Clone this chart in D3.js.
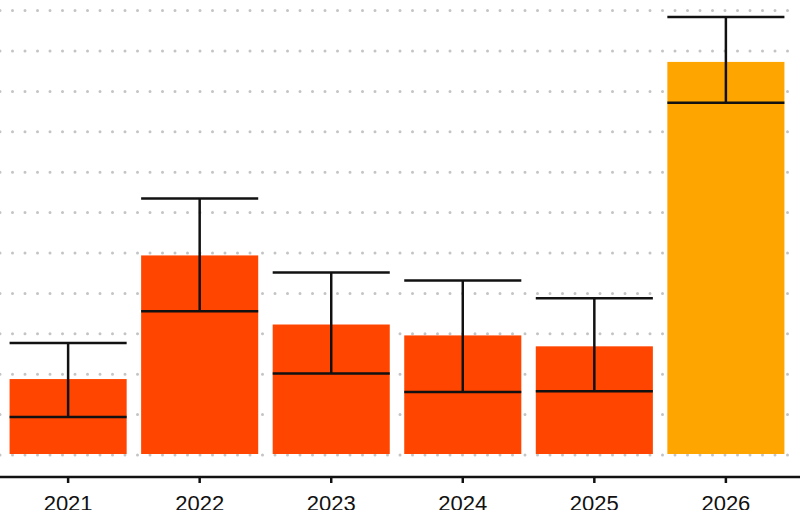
<!DOCTYPE html>
<html>
<head>
  <meta charset="utf-8">
  <script src="https://d3js.org/d3.v7.min.js"></script>
  <style>body{margin:0;background:#fff}</style>
</head>
<body>
  <div id="chart"></div>
  <script>
    var years = ["2021", "2022", "2023", "2024", "2025", "2026"];
    var values = [1.88, 4.94, 3.23, 2.96, 2.69, 9.73];
    var upper = [2.77, 6.35, 4.52, 4.32, 3.88, 10.84];
    var lower = [0.94, 3.56, 2.02, 1.56, 1.58, 8.72];
    var colors = ["#ff4500", "#ff4500", "#ff4500", "#ff4500", "#ff4500", "#ffa500"];
    var gridTicks = d3.range(0, 12);

    var data = years.map(function (y, i) {
      return { year: y, value: values[i], hi: upper[i], lo: lower[i], color: colors[i] };
    });

    var W = 800, H = 510;
    var svg = d3.select("#chart").append("svg").attr("width", W).attr("height", H);

    var x = d3.scaleBand().domain(years).range([3, 791]).paddingInner(0.11).paddingOuter(0.05);
    var y = d3.scaleLinear().domain([0, 11]).range([455, 455 - 11 * 40.4]);

    // dotted grid
    svg.append("g").selectAll("line").data(gridTicks).enter().append("line")
      .attr("x1", 0).attr("x2", W)
      .attr("y1", function (d) { return y(d); }).attr("y2", function (d) { return y(d); })
      .attr("stroke", "#c4c4c4").attr("stroke-width", 3)
      .attr("stroke-dasharray", "0,12.5").attr("stroke-linecap", "round");

    // bars
    svg.append("g").selectAll("rect").data(data).enter().append("rect")
      .attr("x", function (d) { return x(d.year); })
      .attr("width", x.bandwidth())
      .attr("y", function (d) { return y(d.value); })
      .attr("height", function (d) { return y(0) - 1 - y(d.value); })
      .attr("fill", function (d) { return d.color; });

    // error bars
    var eb = svg.append("g").attr("stroke", "#111").attr("stroke-width", 2.5).attr("fill", "none");
    data.forEach(function (d) {
      var x0 = x(d.year), x1 = x0 + x.bandwidth(), xm = x0 + x.bandwidth() / 2;
      eb.append("line").attr("x1", xm).attr("x2", xm).attr("y1", y(d.hi)).attr("y2", y(d.lo));
      eb.append("line").attr("x1", x0).attr("x2", x1).attr("y1", y(d.hi)).attr("y2", y(d.hi));
      eb.append("line").attr("x1", x0).attr("x2", x1).attr("y1", y(d.lo)).attr("y2", y(d.lo));
    });

    // x axis
    var axis = svg.append("g").attr("transform", "translate(0,477)")
      .call(d3.axisBottom(x).tickSize(6).tickSizeOuter(0).tickPadding(12));
    axis.select(".domain").attr("d", "M0,0H" + W).attr("stroke", "#111").attr("stroke-width", 2.5);
    axis.selectAll(".tick line").attr("stroke", "#111").attr("stroke-width", 2.5);
    axis.selectAll("text").attr("font-family", "Liberation Sans, Arial, sans-serif")
      .attr("font-size", 22).attr("fill", "#111");
  </script>
</body>
</html>
